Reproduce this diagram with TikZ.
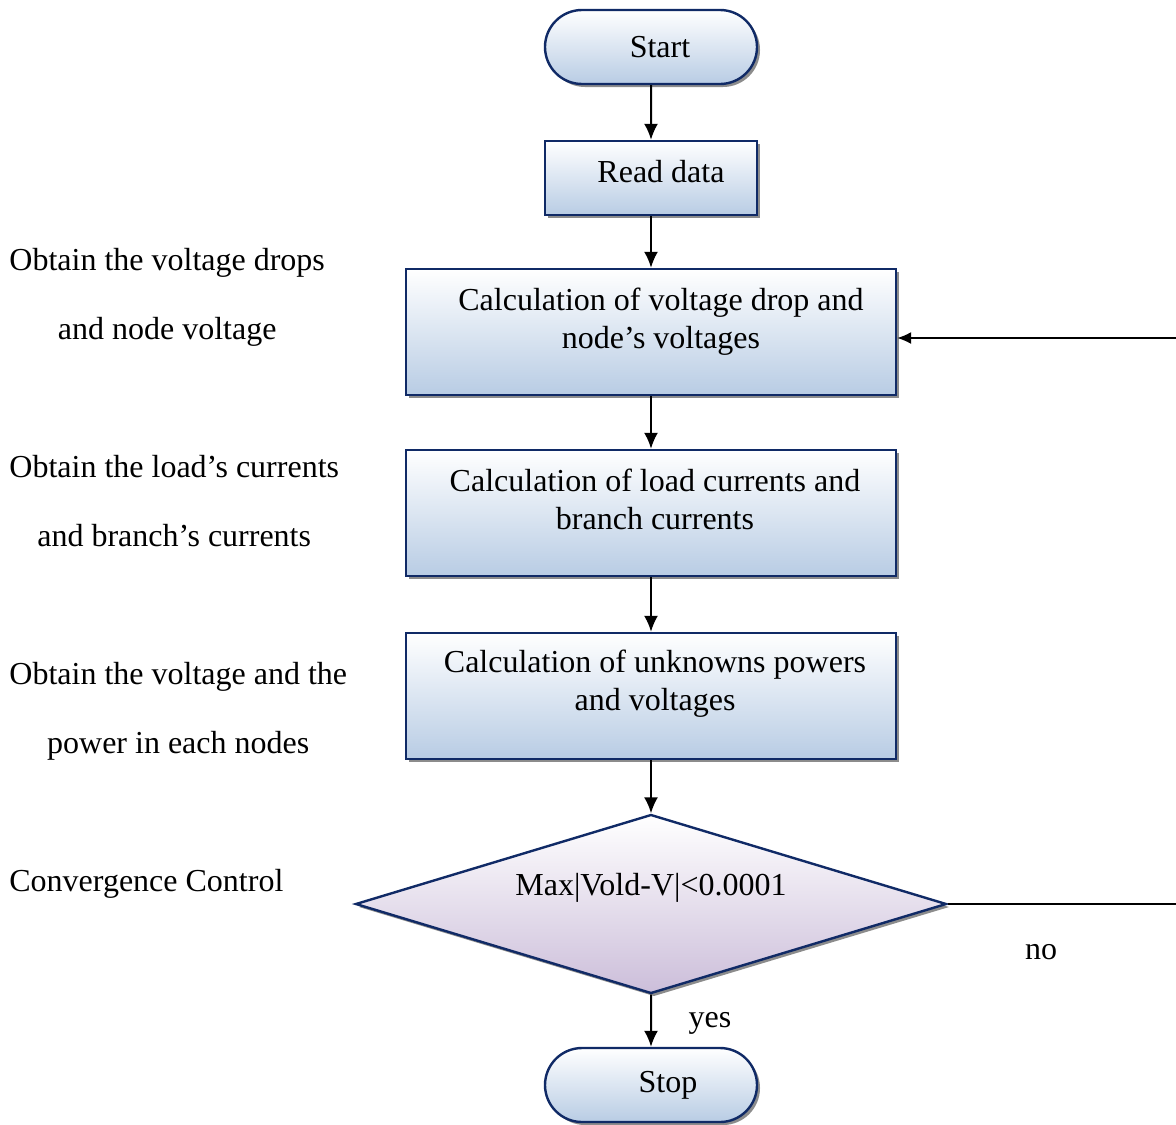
\documentclass[tikz,border=0pt]{standalone}
\usepackage{fontspec}
\setmainfont{Liberation Serif}
\usetikzlibrary{shapes.geometric,shapes.misc,shadows,arrows.meta}
\definecolor{bordo}{RGB}{16,42,102}
\definecolor{azzurro}{RGB}{184,204,228}
\definecolor{lilla}{RGB}{204,190,218}
\newcommand{\alzato}[2][5pt]{\raisebox{#1}[\height][\depth]{\begin{tabular}{@{}c@{}}#2\end{tabular}}}
\begin{document}
\begin{tikzpicture}[x=0.5pt,y=-0.5pt,
  font=\fontsize{16}{19}\selectfont,
  blocco/.style={draw=bordo, line width=1.2pt, top color=white, bottom color=azzurro,
    drop shadow={shadow xshift=1.5pt, shadow yshift=-1.5pt, fill=black!45, opacity=1}, inner sep=0pt},
  terminale/.style={blocco, rounded rectangle, minimum width=106pt, minimum height=37pt},
  lettura/.style={blocco, rectangle, minimum width=106pt, minimum height=37pt},
  calcolo/.style={blocco, rectangle, minimum width=245pt, minimum height=63pt},
  scelta/.style={blocco, diamond, bottom color=lilla, aspect=3.3, minimum width=295.5pt, minimum height=89.5pt},
  freccia/.style={line width=1pt, -{Latex[length=8pt,width=7pt]}},
  ritorno/.style={line width=0.7pt, -{Latex[length=7pt,width=6pt]}},
  nota/.style={font=\fontsize{16}{34.5}\selectfont, align=center, anchor=north west, inner sep=0pt}]
        \useasboundingbox (0,0) rectangle (1176,1124);

        % Blocchi del diagramma
        \node[terminale] (start) at (651,47) {\hspace*{9pt}Start};
        \node[lettura] (lettura) at (651,178) {\hspace*{10pt}\raisebox{3pt}[\height][\depth]{Read data}};
        \node[calcolo] (calc1) at (651,332) {\hspace*{10pt}\alzato{Calculation of voltage drop and\\node's voltages}};
        \node[calcolo] (calc2) at (651,513) {\hspace*{4pt}\alzato{Calculation of load currents and\\branch currents}};
        \node[calcolo] (calc3) at (651,696) {\hspace*{4pt}\alzato[6pt]{Calculation of unknowns powers\\and voltages}};
        \node[scelta] (test) at (651,904) {\alzato[8pt]{Max|Vold-V|<0.0001}};
        \node[terminale] (stop) at (651,1085) {\hspace*{17pt}Stop};

        % Note a sinistra
        \node[nota] (nota1) at (9,248) {Obtain the voltage drops\\and node voltage};
        \node[nota] (nota2) at (9,455) {Obtain the load's currents\\and branch's currents};
        \node[nota] (nota3) at (9,662) {Obtain the voltage and the\\power in each nodes};
        \node[nota] (nota4) at (9,869) {Convergence Control};
        \node (no) at (1041,952) {no};
        \node (si) at (710,1023) {yes};

        % Frecce
        \draw[freccia] (start) -- (lettura);
        \draw[freccia] (lettura) -- (calc1);
        \draw[freccia] (calc1) -- (calc2);
        \draw[freccia] (calc2) -- (calc3);
        \draw[freccia] (calc3) -- (test);
        \draw[freccia] (test) -- (stop);

        % Ritorno
        \coordinate (giro) at (1200,904);
        \draw[ritorno] (test.east) -- (giro) |- ([yshift=-3pt]calc1.east);
      \end{tikzpicture}
\end{document}
